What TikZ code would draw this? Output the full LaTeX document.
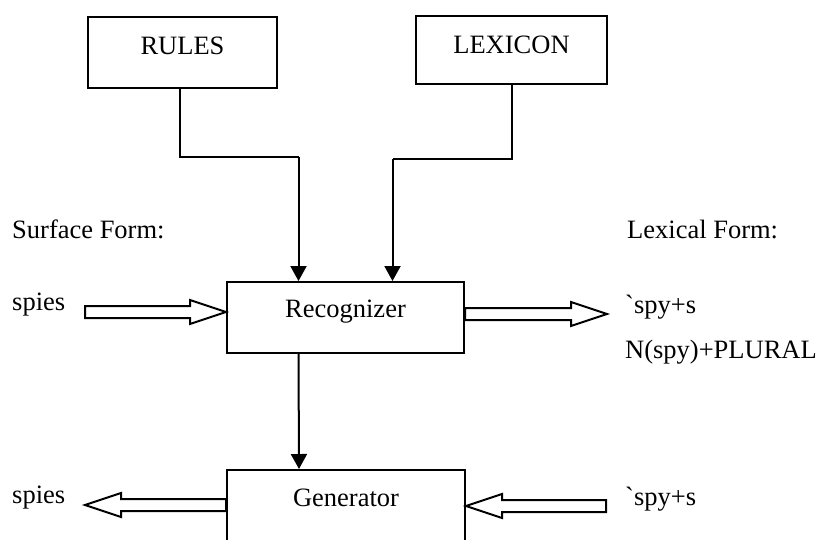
\documentclass[tikz,border=0pt]{standalone}
\usepackage{fontspec}
\setmainfont{Liberation Serif}
\usetikzlibrary{arrows.meta,calc}

% hollow "fat" arrow running horizontally from #1 to #2 (tip at #2)
\newcommand\fatarrow[2]{%
  \draw[fat] let \p1=(#1), \p2=(#2), \n1={ifthenelse(\x2>\x1,1,-1)} in
    ({\x1},{\y2+6pt}) -- ({\x2-\n1*36pt},{\y2+6pt}) -- ({\x2-\n1*36pt},{\y2+12pt})
    -- (\x2,\y2)
    -- ({\x2-\n1*36pt},{\y2-12pt}) -- ({\x2-\n1*36pt},{\y2-6pt}) -- ({\x1},{\y2-6pt}) -- cycle;}

\begin{document}
\begin{tikzpicture}[x=1pt,y=-1pt,
  txt/.style={font=\fontsize{26.5}{30}\selectfont},
  box/.style={txt,draw,line width=2pt,inner xsep=0pt,inner ysep=0pt,anchor=north west},
  lbl/.style={txt,inner sep=0pt,anchor=base west},
  wire/.style={line width=2pt},
  conn/.style={wire,-{Triangle[width=16pt,length=15pt]}},
  fat/.style={line width=2pt,line join=miter}]
\useasboundingbox (0,0) rectangle (821,539);
\clip (0,0) rectangle (821,539);

% boxes
\node[box,minimum width=189pt,text height=37pt,text depth=34pt] (rules) at (87,16) {RULES};
\node[box,minimum width=191pt,text height=37pt,text depth=31pt] (lex) at (415,15) {LEXICON};
\node[box,minimum width=237pt,text height=35pt,text depth=36pt] (rec) at (226,281) {Recognizer};
\node[box,minimum width=238pt,text height=36pt,text depth=60pt] (gen) at (226,469) {Generator};

% knowledge sources feed the recognizer
\coordinate (recA) at ($(rec.north)+(-47,0)$);
\coordinate (recB) at ($(rec.north)+(47,0)$);
\coordinate (kneeR) at ($(recA)+(0,-124)$);
\coordinate (kneeL) at ($(recB)+(0,-122)$);
\draw[wire] ($(rules.south)+(-2.5,0)$) |- (kneeR);
\draw[conn] (kneeR) -- (recA);
\draw[wire] (lex.south) |- (kneeL);
\draw[conn] (kneeL) -- (recB);

% recognizer drives the generator
\draw[conn] ($(rec.south)+(-47,0)$) -- ($(gen.north)+(-47,0)$);

% input / output streams
\coordinate (sin) at (85,312);
\coordinate (lout) at (607,314);
\coordinate (sout) at (85,505);
\coordinate (lin) at (606,506);
\fatarrow{sin}{rec.west |- sin}
\fatarrow{rec.east |- lout}{lout}
\fatarrow{gen.west |- sout}{sout}
\fatarrow{lin}{gen.east |- lin}

% labels
\node[lbl] (sfhead) at (12,238) {Surface Form:};
\node[lbl] (lfhead) at (627,238) {Lexical Form:};
\node[lbl] (sf1) at (12,310) {spies};
\node[lbl] (lf1) at (625,313) {\textasciigrave spy+s};
\node[lbl] (lf1b) at (625,358) {N(spy)+PLURAL};
\node[lbl] (sf2) at (12,503) {spies};
\node[lbl] (lf2) at (625,505) {\textasciigrave spy+s};
\end{tikzpicture}
\end{document}
